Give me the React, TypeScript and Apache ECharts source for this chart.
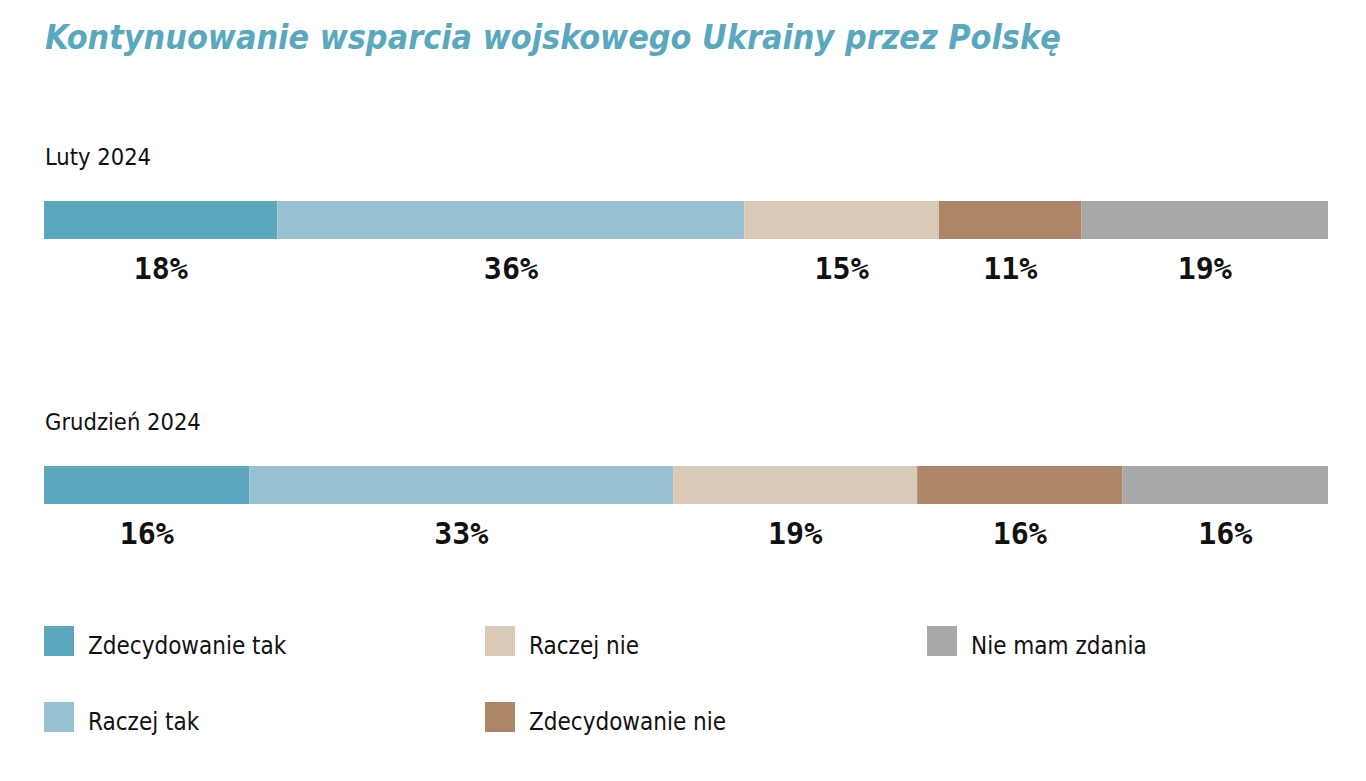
import { useEffect, useRef } from 'react';
import * as echarts from 'echarts';

const periods = ['Luty 2024', 'Grudzień 2024'];
const answers = ['Zdecydowanie tak', 'Raczej tak', 'Raczej nie', 'Zdecydowanie nie', 'Nie mam zdania'];
const colors = ['#5ba7be', '#98c1d3', '#dbc9b8', '#ad8668', '#a8a8a8'];
const febValues = [18, 36, 15, 11, 19];
const decValues = [16, 33, 19, 16, 16];
const rows = [febValues, decValues];

const narrow = '"Liberation Sans Narrow", "DejaVu Sans Condensed", "Noto Sans", sans-serif';
const mono = '"DejaVu Sans Mono", monospace';

const gridTops = [201, 466];

export default function App() {
  const chartRef = useRef<HTMLDivElement | null>(null);

  useEffect(() => {
    if (!chartRef.current) return;
    const chart = echarts.init(chartRef.current, null, { renderer: 'svg' });

    const grids = gridTops.map((top) => ({ left: 44, width: 1284, top, height: 38 }));
    const xAxes = rows.map((vals, i) => ({
      type: 'value' as const,
      gridIndex: i,
      min: 0,
      max: vals.reduce((a, b) => a + b, 0),
      show: false,
    }));
    const yAxes = periods.map((p, i) => ({
      type: 'category' as const,
      gridIndex: i,
      data: [p],
      show: false,
    }));

    const series = rows.flatMap((vals, i) =>
      answers.map((name, j) => ({
        type: 'bar' as const,
        name,
        stack: 'row' + i,
        xAxisIndex: i,
        yAxisIndex: i,
        barWidth: '100%',
        data: [vals[j]],
        itemStyle: { color: colors[j] },
        label: {
          show: true,
          position: 'bottom' as const,
          distance: 14,
          formatter: '{c}%',
          fontFamily: mono,
          fontWeight: 'bold' as const,
          fontSize: 30,
          color: '#111',
        },
      }))
    );

    const legendCols = [[0, 1], [2, 3], [4]];
    const legendLeft = [44, 485, 927];
    const legends = legendCols.map((idx, c) => ({
      left: legendLeft[c],
      top: 626,
      padding: 0,
      orient: 'vertical' as const,
      itemWidth: 30,
      itemHeight: 30,
      itemGap: 44,
      icon: 'rect',
      selectedMode: false,
      data: idx.map((k) => answers[k]),
      formatter: '{t|{name}}',
      textStyle: {
        rich: {
          t: { fontFamily: narrow, fontSize: 24, color: '#111', padding: [10, 0, 0, 9] },
        },
      },
    }));

    chart.setOption({
      animation: false,
      title: [
        {
          text: 'Kontynuowanie wsparcia wojskowego Ukrainy przez Polskę',
          left: 40,
          top: 15,
          textStyle: {
            fontFamily: narrow,
            fontStyle: 'italic',
            fontWeight: 'bold',
            fontSize: 33.8,
            color: '#5aa8be',
          },
        },
        ...periods.map((p, i) => ({
          text: p,
          left: 40,
          top: gridTops[i] - 61,
          textStyle: { fontFamily: narrow, fontWeight: 'normal' as const, fontSize: 23.5, color: '#111' },
        })),
      ],
      grid: grids,
      xAxis: xAxes,
      yAxis: yAxes,
      legend: legends,
      series,
    });

    return () => chart.dispose();
  }, []);

  return (
    <div
      ref={chartRef}
      style={{ position: 'fixed', left: 0, top: 0, width: 1366, height: 781, background: '#fff' }}
    />
  );
}
